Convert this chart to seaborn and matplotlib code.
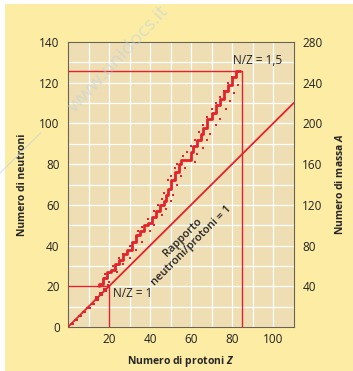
import matplotlib
matplotlib.use("Agg")
import matplotlib.pyplot as plt
import seaborn as sns
import pandas as pd
from matplotlib.patches import Rectangle
from matplotlib.lines import Line2D

# banda di stabilità
main_z = [15, 17, 19, 21, 23, 25, 27, 29, 31, 33, 35, 37, 39, 41, 43, 45, 47, 48, 49, 50,
          52, 54, 55, 58, 60, 61, 63, 65, 66, 68, 70, 72, 74, 76, 78, 80, 82, 84]
main_n = [20, 21, 24, 27, 28, 31, 33, 36, 38, 42, 45, 47, 50, 51, 54, 57, 60, 62, 65, 68,
          72, 76, 80, 82, 82, 86, 89, 92, 95, 98, 102, 105, 109, 112, 116, 119, 123, 126]

# isotopi sparsi ai lati della banda
dots_z = [18, 18, 22, 25, 27, 30, 33, 34, 36, 39, 42, 44, 46, 47, 49, 50, 52, 53, 56, 58,
          60, 62, 64, 66, 68, 70, 72, 74, 76, 78, 80,
          20, 24, 27, 30, 33, 36, 40, 42, 46, 48, 50, 51, 53, 55, 57, 62, 63, 66, 68,
          69, 72, 74, 77, 79, 81, 83]
dots_n = [26, 24, 30, 34, 36, 40, 44, 47, 49, 53, 57, 60, 63, 66, 72, 74, 78, 80, 84, 86,
          89, 92, 96, 99, 103, 107, 110, 113, 116, 120, 123,
          22, 27, 31, 34, 38, 42, 47, 50, 55, 58, 62, 65, 70, 74, 78, 81, 85, 88, 92,
          95, 99, 102, 107, 111, 115, 119]

# nuclei leggeri (Z < 20)
wedge_z = [0, 1, 3, 5, 7, 9, 11, 13, 15, 17, 19, 20]
wedge_top = [0, 2, 4, 6, 8, 10, 12, 15, 17, 19, 21, 21]

diag = [0, 110]
x_ticks = [20, 40, 60, 80, 100]
y_ticks = [0, 20, 40, 60, 80, 100, 120, 140]
a_ticks = [40, 80, 120, 160, 200, 240, 280]

rosso = '#e3232b'
giallo = '#fdeca4'
fondo = '#efdeb3'

sns.set_style('white')
plt.rcParams['font.family'] = ['Open Sans', 'DejaVu Sans']
plt.rcParams['mathtext.fontset'] = 'custom'
plt.rcParams['mathtext.it'] = 'Open Sans:italic:bold'
plt.rcParams['mathtext.rm'] = 'Open Sans:bold'

fig = plt.figure(figsize=(3.53, 3.71), dpi=100, facecolor='white')
fig.patches.append(Rectangle((5 / 353, 0), 1, (371 - 4) / 371, transform=fig.transFigure,
                             facecolor=giallo, edgecolor='none', zorder=-10))
ax = fig.add_axes([68 / 353, 44 / 371, 226 / 353, 285 / 371])
ax.set_facecolor(fondo)

ax.set_xlim(0, 110.2)
ax.set_ylim(0, 140)
ax.set_xticks(x_ticks)
ax.set_yticks(y_ticks)
ax.set_xticks(range(0, 111, 10), minor=True)
ax.set_yticks(range(0, 141, 10), minor=True)
ax.grid(which='both', color='white', lw=0.9)
ax.set_axisbelow(True)
ax.tick_params(which='both', length=0, labelsize=8.5, colors='#222222')
ax.tick_params(axis='x', pad=4)
ax.tick_params(axis='y', pad=6)
for s in ax.spines.values():
    s.set_color('#6b6250')
    s.set_linewidth(0.8)

# linee di riferimento
ax.plot(diag, diag, color=rosso, lw=1.3, zorder=3)
ax.plot([0, 20], [20, 20], color=rosso, lw=1, zorder=3)
ax.plot([20, 20], [0, 20], color=rosso, lw=1, zorder=3)
ax.plot([0, 85], [126, 126], color=rosso, lw=1, zorder=3)
ax.plot([85, 85], [0, 126], color=rosso, lw=1, zorder=3)

ax.fill_between(wedge_z, wedge_z, wedge_top, step='post', color=rosso, lw=0, zorder=4)
banda = pd.DataFrame({'Z': main_z, 'N': main_n})
sns.lineplot(data=banda, x='Z', y='N', ax=ax, color=rosso, lw=2.0, drawstyle='steps-pre',
             sort=False, zorder=5)
sparsi = pd.DataFrame({'Z': dots_z, 'N': dots_n})
sns.scatterplot(data=sparsi, x='Z', y='N', ax=ax, color=rosso, marker='s', s=3.5,
                linewidth=0, zorder=5)

ax.text(80.5, 131, 'N/Z = 1,5', fontsize=8.5, color='#222222', ha='left', va='center')
ax.text(22, 16.5, 'N/Z = 1', fontsize=8.5, color='#222222', ha='left', va='center')
ax.text(58, 42, 'Rapporto\nneutroni/protoni = 1', fontsize=8, fontweight='semibold',
        color='#222222', ha='center', va='center', rotation=45, rotation_mode='anchor',
        linespacing=1.1)

ax.set_xlabel(r'Numero di protoni $\mathit{Z}$', fontsize=7.5, fontweight='bold', labelpad=6)
ax.set_ylabel('Numero di neutroni', fontsize=7.5, fontweight='bold', labelpad=8)

ax2 = ax.twinx()
ax2.set_ylim(0, 280)
ax2.set_yticks(a_ticks)
ax2.tick_params(length=0, labelsize=8.5, colors='#222222', pad=6)
ax2.grid(False)
for s in ax2.spines.values():
    s.set_visible(False)
ax2.set_ylabel(r'Numero di massa $\mathit{A}$', fontsize=7.5, fontweight='bold', labelpad=8)

# filigrana
fig.text(0.335, 0.84, 'www.unidocs.it', fontsize=14, color='#b8d2e2', alpha=0.5,
         rotation=47, ha='center', va='center', zorder=10)
fig.lines.append(Line2D([0.0, 0.115], [1 - 173 / 371, 1 - 133 / 371], transform=fig.transFigure,
                        color='#b8d2e2', alpha=0.6, lw=0.8))

fig.savefig('out.png', dpi=100, facecolor=fig.get_facecolor())
